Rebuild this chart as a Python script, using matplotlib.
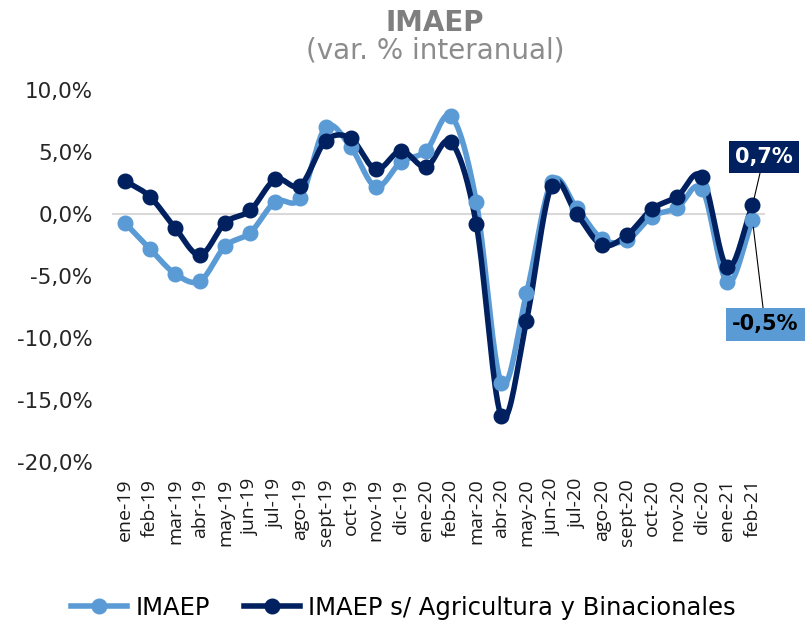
import matplotlib
matplotlib.use('Agg')
import matplotlib.pyplot as plt
from matplotlib.lines import Line2D
import numpy as np

# monthly labels and values (var. % interanual)
months = ['ene-19', 'feb-19', 'mar-19', 'abr-19', 'may-19', 'jun-19', 'jul-19', 'ago-19',
          'sept-19', 'oct-19', 'nov-19', 'dic-19', 'ene-20', 'feb-20', 'mar-20', 'abr-20',
          'may-20', 'jun-20', 'jul-20', 'ago-20', 'sept-20', 'oct-20', 'nov-20', 'dic-20',
          'ene-21', 'feb-21']
imaep = [-0.7, -2.8, -4.8, -5.4, -2.6, -1.5, 1.0, 1.3, 7.0, 5.4, 2.2, 4.2, 5.1, 7.9,
         1.0, -13.6, -6.4, 2.6, 0.5, -2.0, -2.1, -0.2, 0.5, 2.0, -5.5, -0.5]
imaep_sin = [2.7, 1.4, -1.1, -3.3, -0.7, 0.3, 2.8, 2.3, 5.9, 6.1, 3.6, 5.1, 3.8, 5.8,
             -0.8, -16.3, -8.6, 2.3, 0.0, -2.5, -1.7, 0.4, 1.4, 3.0, -4.3, 0.7]

light = '#5B9BD5'
dark = '#002060'
grey = '#7F7F7F'
font = 'DejaVu Sans'
tick_font = 'Open Sans'


def smooth(y, n=20):
    # Catmull-Rom curve through the points, like Excel's smoothed line
    y = np.asarray(y, dtype=float)
    x = np.arange(len(y), dtype=float)
    px = np.concatenate([[2 * x[0] - x[1]], x, [2 * x[-1] - x[-2]]])
    py = np.concatenate([[2 * y[0] - y[1]], y, [2 * y[-1] - y[-2]]])
    xs, ys = [], []
    t = np.linspace(0, 1, n, endpoint=False)
    for i in range(1, len(px) - 2):
        for arr, out in ((px, xs), (py, ys)):
            p0, p1, p2, p3 = arr[i - 1], arr[i], arr[i + 1], arr[i + 2]
            out.extend(0.5 * ((2 * p1) + (-p0 + p2) * t
                              + (2 * p0 - 5 * p1 + 4 * p2 - p3) * t ** 2
                              + (-p0 + 3 * p1 - 3 * p2 + p3) * t ** 3))
    xs.append(x[-1])
    ys.append(y[-1])
    return np.array(xs), np.array(ys)


fig = plt.figure(figsize=(8.07, 6.21), dpi=100)
ax = fig.add_axes([0.139, 0.256, 0.809, 0.599])

x = np.arange(len(months))
ax.axhline(0, color='#D9D9D9', lw=1.5, zorder=1)
for vals, col in ((imaep, light), (imaep_sin, dark)):
    sx, sy = smooth(vals)
    ax.plot(sx, sy, color=col, lw=4.0, solid_capstyle='round', zorder=2)
    ax.plot(x, vals, 'o', color=col, ms=10.5, zorder=3)

ax.set_xlim(-0.5, len(months) - 0.5)
ax.set_ylim(-20, 10)
ax.set_yticks(np.arange(-20, 11, 5))
ax.set_yticklabels([f'{v:.1f}%'.replace('.', ',') for v in np.arange(-20, 11, 5)],
                   fontsize=15.5, family=font, color='#262626')
ax.set_xticks(x)
ax.set_xticklabels(months, rotation=90, fontsize=14, family=tick_font, color='#1a1a1a')
ax.tick_params(axis='y', length=0, pad=14)
ax.tick_params(axis='x', length=0, pad=12)
for s in ax.spines.values():
    s.set_visible(False)

fig.text(0.539, 0.963, 'IMAEP', ha='center', va='center', fontsize=20, fontweight='bold',
         color=grey, family=font)
fig.text(0.539, 0.918, '(var. % interanual)', ha='center', va='center', fontsize=20,
         color='#8C8C8C', family=font)

# end-point labels
ax.annotate(f'{imaep_sin[-1]:.1f}%'.replace('.', ','), xy=(x[-1], imaep_sin[-1]),
            xytext=(x[-1] + 0.45, 4.6), ha='center', va='center', fontsize=15,
            fontweight='bold', color='white', family=font,
            bbox=dict(boxstyle='square,pad=0.3', fc=dark, ec='none'),
            arrowprops=dict(arrowstyle='-', color='black', lw=0.8,
                        shrinkA=0, shrinkB=5), annotation_clip=False)
ax.annotate(f'{imaep[-1]:.1f}%'.replace('.', ','), xy=(x[-1], imaep[-1]),
            xytext=(x[-1] + 0.5, -8.9), ha='center', va='center', fontsize=15,
            fontweight='bold', color='black', family=font,
            bbox=dict(boxstyle='square,pad=0.3', fc=light, ec='none'),
            arrowprops=dict(arrowstyle='-', color='black', lw=0.8,
                        shrinkA=0, shrinkB=5), annotation_clip=False)

handles = [Line2D([], [], color=light, lw=4.0, marker='o', ms=10.5),
           Line2D([], [], color=dark, lw=4.0, marker='o', ms=10.5)]
fig.legend(handles, ['IMAEP', 'IMAEP s/ Agricultura y Binacionales'], loc='center',
           bbox_to_anchor=(0.5, 0.021), ncol=2, frameon=False, handlelength=2.3,
           columnspacing=1.4, handletextpad=0.35,
           prop={'family': font, 'size': 17.5})

fig.savefig('out.png', dpi=100)
